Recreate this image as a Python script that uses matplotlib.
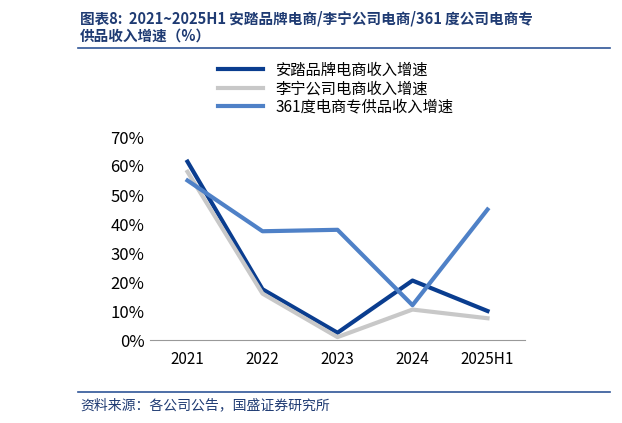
import matplotlib
matplotlib.use("Agg")
import matplotlib.pyplot as plt
from matplotlib.lines import Line2D

plt.rcParams['font.family'] = ['Noto Sans CJK SC', 'DejaVu Sans']

years = ["2021", "2022", "2023", "2024", "2025H1"]
anta = [61.5, 17.5, 2.5, 20.5, 10.0]
lining = [58.0, 16.0, 1.0, 10.5, 7.5]
s361 = [55.0, 37.5, 38.0, 12.0, 45.0]
names = ["安踏品牌电商收入增速", "李宁公司电商收入增速", "361度电商专供品收入增速"]
colors = ["#0a3d8f", "#c8c8c8", "#4f81c7"]

W, H = 622, 423
fig = plt.figure(figsize=(W/100, H/100), dpi=100)
ax = fig.add_axes([150/W, 1-340/H, 375/W, 203/H])
x = range(len(years))
for ys, c, n in zip([anta, lining, s361], colors, names):
    ax.plot(x, ys, color=c, lw=3, label=n)
ax.set_xlim(-0.5, 4.5)
ax.set_ylim(0, 70)
ax.set_yticks(range(0, 71, 10))
ax.set_yticklabels([f"{v}%" for v in range(0, 71, 10)], fontsize=12)
ax.set_xticks(list(x))
ax.set_xticklabels(years, fontsize=11)
for s in ["top", "right", "left"]:
    ax.spines[s].set_visible(False)
ax.spines["bottom"].set_color("#999999")
ax.tick_params(length=0, pad=8)
ax.tick_params(axis='y', pad=4)

fig.legend(handles=[Line2D([], [], color=c, lw=3) for c in colors], labels=names,
           loc="upper left", bbox_to_anchor=(210/W, 1-54/H), frameon=False,
           fontsize=11, handlelength=3, labelspacing=0.1, borderpad=0)

fig.text(80/W, 1-18/H, "图表8:  2021~2025H1 安踏品牌电商/李宁公司电商/361 度公司电商专",
         fontsize=10.5, style="italic", weight="bold", color="#1f3b73", va="center")
fig.text(80/W, 1-36/H, "供品收入增速（%）", fontsize=10.5, style="italic", weight="bold",
         color="#1f3b73", va="center")
fig.add_artist(Line2D([78/W, 610/W], [1-48/H, 1-48/H], color="#2f5597", lw=1.2))
fig.add_artist(Line2D([78/W, 610/W], [1-392/H, 1-392/H], color="#2f5597", lw=1.2))
fig.text(80/W, 1-405/H, "资料来源：各公司公告，国盛证券研究所", fontsize=10, style="italic",
         color="#1f3b73", va="center")

fig.savefig("out.png", dpi=100)
